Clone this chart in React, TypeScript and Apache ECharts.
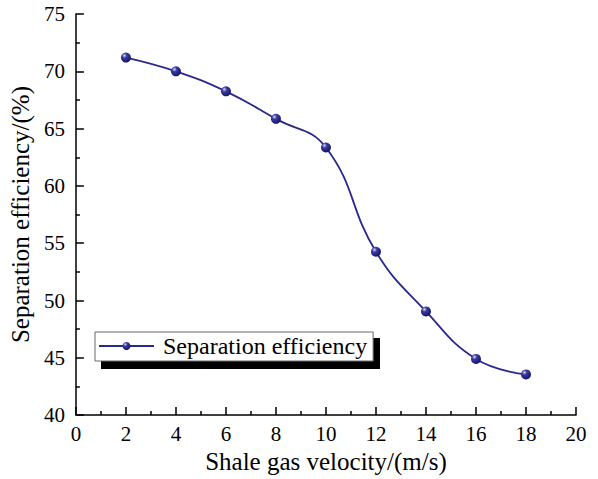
import React, { useEffect, useRef } from "react";
import * as echarts from "echarts";

const velocity = [2, 4, 6, 8, 10, 12, 14, 16, 18];
const efficiency = [71.2, 70.0, 68.25, 65.85, 63.35, 54.25, 49.05, 44.9, 43.55];
const seriesName = "Separation efficiency";
const xName = "Shale gas velocity/(m/s)";
const yName = "Separation efficiency/(%)";

const FONT = "Liberation Serif";

export default function App() {
  const ref = useRef<HTMLDivElement>(null);
  useEffect(() => {
    const chart = echarts.init(ref.current!, null, { renderer: "svg" });
    const markerColor = new echarts.graphic.RadialGradient(0.35, 0.3, 0.7, [
      { offset: 0, color: "#d8d8f0" },
      { offset: 0.35, color: "#3a3aa0" },
      { offset: 1, color: "#16166a" },
    ]);
    chart.setOption({
      animation: false,
      backgroundColor: "#ffffff",
      grid: { left: 75, right: 22, top: 14, bottom: 61 },
      legend: {
        left: 95,
        top: 332,
        orient: "horizontal",
        backgroundColor: "#ffffff",
        borderColor: "#666",
        borderWidth: 1,
        padding: [2, 6, 3, 3],
        itemWidth: 55,
        itemHeight: 10,
        itemGap: 4,
        textStyle: { fontFamily: FONT, fontSize: 24, color: "#000", padding: [0, 0, 0, 4] },
        data: [seriesName],
      },
      graphic: [
        {
          type: "rect",
          z: -1,
          shape: { x: 101, y: 338, width: 279, height: 31 },
          style: { fill: "#000" },
        },
      ],
      xAxis: {
        type: "value",
        min: 0,
        max: 20,
        interval: 2,
        name: xName,
        nameLocation: "middle",
        nameGap: 31,
        nameTextStyle: { fontFamily: FONT, fontSize: 25, color: "#000" },
        axisLine: { onZero: false, lineStyle: { color: "#000", width: 1.5 } },
        axisTick: { inside: true, length: 8, lineStyle: { color: "#000", width: 1.5 } },
        minorTick: { show: true, splitNumber: 2, length: 4, lineStyle: { color: "#000", width: 1.5 } },
        axisLabel: { fontFamily: FONT, fontSize: 21, color: "#000", margin: 8 },
        splitLine: { show: false },
      },
      yAxis: {
        type: "value",
        min: 40,
        max: 75,
        interval: 5,
        name: yName,
        nameLocation: "middle",
        nameGap: 41,
        nameTextStyle: { fontFamily: FONT, fontSize: 25, color: "#000" },
        axisLine: { show: true, lineStyle: { color: "#000", width: 1.5 } },
        axisTick: { show: true, inside: true, length: 8, lineStyle: { color: "#000", width: 1.5 } },
        minorTick: { show: true, splitNumber: 2, length: 4, lineStyle: { color: "#000", width: 1.5 } },
        axisLabel: { fontFamily: FONT, fontSize: 21, color: "#000", margin: 11 },
        splitLine: { show: false },
      },
      series: [
        {
          name: seriesName,
          type: "line",
          data: velocity.map((v, i) => [v, efficiency[i]]),
          smooth: 0.45,
          symbol: "circle",
          symbolSize: 10,
          lineStyle: { color: "#28288e", width: 1.8 },
          itemStyle: { color: markerColor, borderWidth: 0 },
          z: 5,
        },
      ],
    });
    return () => chart.dispose();
  }, []);
  return <div ref={ref} style={{ width: 598, height: 479, position: "absolute", left: 0, top: 0 }} />;
}
